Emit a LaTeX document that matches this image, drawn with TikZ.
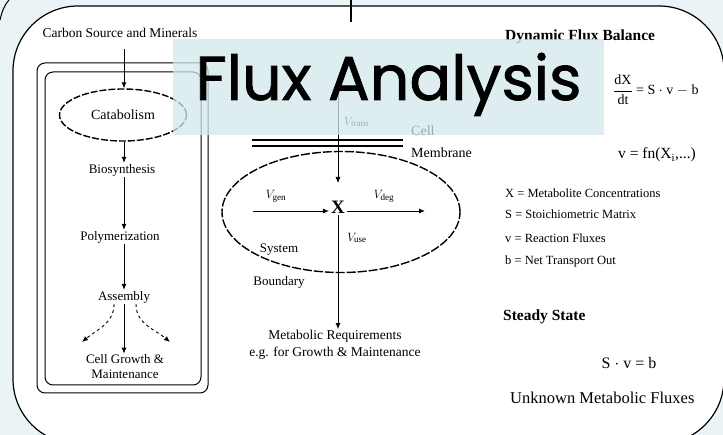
\documentclass[tikz,border=0pt]{standalone}
\usepackage{fontspec}
\setmainfont{Liberation Serif}
\newfontfamily\titlefont[FakeBold=1.3]{Poppins}
\usetikzlibrary{arrows.meta,shapes.geometric}
\definecolor{bgblue}{HTML}{EAF4F6}
\definecolor{titlebg}{HTML}{D3E7EA}
\begin{document}
\begin{tikzpicture}[x=1pt,y=-1pt,
  lbl/.style={font=\fontsize{13}{15}\selectfont, inner sep=1pt},
  rlbl/.style={font=\fontsize{12.5}{14}\selectfont, inner sep=0pt, anchor=west},
  hdr/.style={font=\bfseries\fontsize{15.5}{17}\selectfont, inner sep=0pt, anchor=west},
  arr/.style={-{Latex[length=6pt,width=5pt]}, line width=0.9pt},
  darr/.style={{Latex[length=6pt,width=5pt]}-{Latex[length=6pt,width=5pt]}, line width=0.7pt},
  cbox/.style={line width=1pt, rounded corners=8pt},
  memb/.style={line width=1.1pt},
  panel/.style={line width=1.2pt, fill=white, rounded corners=65pt}]
\useasboundingbox (0,0) rectangle (723,435);
\fill[bgblue] (0,0) rectangle (723,435);
\draw[line width=1pt] (0,20) .. controls (2,11) and (5,4) .. (9,0);
\draw[panel] (13,6) rectangle (724,444);
\draw[line width=1.2pt] (351,0) -- (351,22);

% left: cell pathway
\draw[cbox] (37,63) rectangle (208,393);
\draw[cbox] (45,72) rectangle (201,385);
\node[lbl, font=\fontsize{13.5}{15}\selectfont] (carbon) at (120,33) {Carbon Source and Minerals};
\coordinate (cstop) at (124,49);
\node[ellipse, draw, line width=1.4pt, dash pattern=on 7pt off 2pt, minimum width=127pt, minimum height=52pt, inner sep=0pt, font=\fontsize{14}{15}\selectfont] (cat) at (123,115) {Catabolism};
\node[lbl] (bio) at (122,170) {Biosynthesis};
\node[lbl] (poly) at (120,237) {Polymerization};
\node[lbl] (asm) at (124,297) {Assembly};
\node[lbl, align=center] (cell) at (125,367) {Cell Growth \&\\Maintenance};
\coordinate (cl) at (82,342);
\coordinate (cr) at (170,342);
\draw[arr] (cstop) -- (cstop |- cat.north);
\draw[arr] (cat.south -| cstop) -- (bio.north -| cstop);
\draw[arr] (bio.south -| cstop) -- (poly.north -| cstop);
\draw[arr] (poly.south -| cstop) -- (asm.north -| cstop);
\draw[arr] (asm.south -| cstop) -- (cell.north -| cstop);
\draw[arr, dashed] ([xshift=-10pt]asm.south) to[out=270, in=40] (cl);
\draw[arr, dashed] ([xshift=12pt]asm.south) to[out=270, in=140] (cr);

% middle: system
\node[ellipse, draw, line width=1.4pt, dash pattern=on 9pt off 2pt, minimum width=238pt, minimum height=121pt] (sys) at (341,212) {};
\draw[memb] (252,140) -- (403,140);
\draw[memb] (252,146) -- (403,146);
\node[rlbl, font=\fontsize{14}{15}\selectfont] (celllbl) at (411,131) {Cell};
\node[rlbl, font=\fontsize{14}{15}\selectfont] (memblbl) at (411,153) {Membrane};
\node[font=\bfseries\fontsize{19}{20}\selectfont, inner sep=2pt] (x) at (338,207) {X};
\coordinate (vt1) at (338,79);
\coordinate (vt2) at (338,183);
\draw[darr] (vt1) -- (vt2);
\node[lbl, anchor=west] (vtrans) at (343,122) {$V_{\mathrm{trans}}$};
\coordinate (gen0) at (253,211);
\coordinate (deg1) at (425,211);
\draw[arr] (gen0) -- (gen0 -| x.west);
\draw[arr] (deg1 -| x.east) -- (deg1);
\node[lbl] (vgen) at (276,196) {$V_{\mathrm{gen}}$};
\node[lbl] (vdeg) at (384,196) {$V_{\mathrm{deg}}$};
\node[lbl] (vuse) at (357,238) {$V_{\mathrm{use}}$};
\node[lbl] (sysl) at (279,250) {System};
\node[lbl] (bndl) at (279,282) {Boundary};
\node[lbl, font=\fontsize{13.5}{17}\selectfont, align=center] (metab) at (335,345) {Metabolic Requirements\\e.g. for Growth \& Maintenance};
\draw[arr] (x.south -| vt1) -- (metab.north -| vt1);

% right: equations
\node[hdr] (dfb) at (505,37) {Dynamic Flux Balance};
\node[font=\fontsize{14}{16}\selectfont, anchor=west, inner sep=0pt] (eq) at (613,90) {$\displaystyle\frac{\mathrm{dX}}{\mathrm{dt}}$ = S $\cdot$ v $-$ b};
\node[font=\fontsize{15.5}{17}\selectfont, inner sep=0pt] (vfn) at (657,155) {v = fn(X\textsubscript{i},...)};
\node[rlbl] (d1) at (505,193) {X = Metabolite Concentrations};
\node[rlbl] (d2) at (505,214) {S = Stoichiometric Matrix};
\node[rlbl] (d3) at (505,238) {v = Reaction Fluxes};
\node[rlbl] (d4) at (505,261) {b = Net Transport Out};
\node[hdr] (ss) at (503,317) {Steady State};
\node[font=\fontsize{16}{17}\selectfont, inner sep=0pt] (ssq) at (629,363) {S $\cdot$ v = b};
\node[rlbl, font=\fontsize{16.5}{18}\selectfont] (unk) at (510,398) {Unknown Metabolic Fluxes};

% title
\node[fill=titlebg, fill opacity=0.75, text opacity=1, inner sep=0pt, minimum width=431pt, text height=61pt, text depth=35pt, font=\titlefont\fontsize{62}{66}\selectfont] (title) at (388.5,87) {Flux Analysis};
\end{tikzpicture}
\end{document}
